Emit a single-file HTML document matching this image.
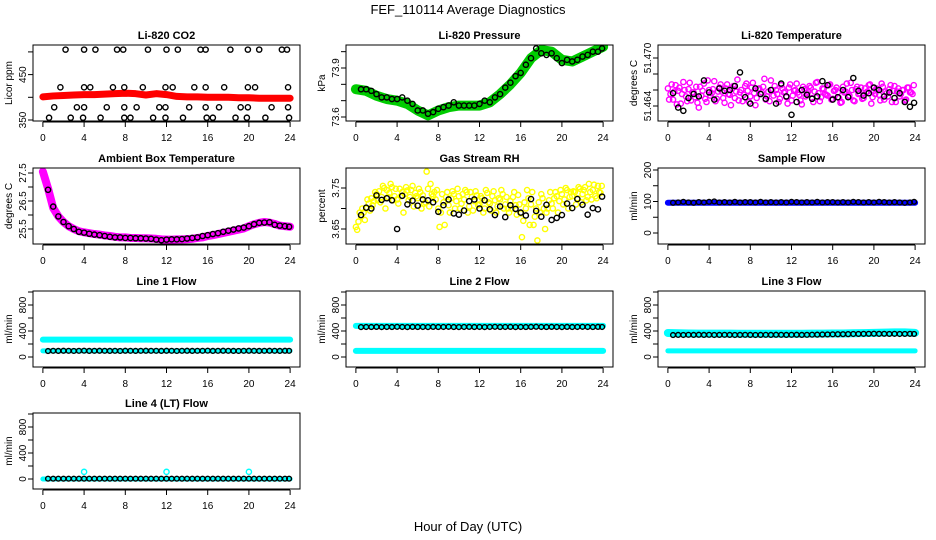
<!DOCTYPE html>
<html><head><meta charset="utf-8"><style>
html,body{margin:0;padding:0;background:#fff;}
svg{display:block;font-family:"Liberation Sans",Helvetica,Arial,sans-serif;}
</style></head><body>
<svg id="chart" width="936" height="540" viewBox="0 0 936 540" xmlns="http://www.w3.org/2000/svg">
<text x="468" y="14" font-size="13" text-anchor="middle">FEF_110114  Average Diagnostics</text>
<text x="468" y="531" font-size="13" text-anchor="middle">Hour of Day (UTC)</text>
</svg>
<script>
const xTicks=[0,4,8,12,16,20,24];
const blackT=[0.5,1,1.5,2,2.5,3,3.5,4,4.5,5,5.5,6,6.5,7,7.5,8,8.5,9,9.5,10,10.5,11,11.5,12,12.5,13,13.5,14,14.5,15,15.5,16,16.5,17,17.5,18,18.5,19,19.5,20,20.5,21,21.5,22,22.5,23,23.5,23.9];
const bandT=[0,0.5,1,1.5,2,2.5,3,3.5,4,4.5,5,5.5,6,6.5,7,7.5,8,8.5,9,9.5,10,10.5,11,11.5,12,12.5,13,13.5,14,14.5,15,15.5,16,16.5,17,17.5,18,18.5,19,19.5,20,20.5,21,21.5,22,22.5,23,23.5,24];
const hourT=[0,1,2,3,4,5,6,7,8,9,10,11,12,13,14,15,16,17,18,19,20,21,22,23,24];
const cloudT=[0,0.25,0.5,0.75,1,1.25,1.5,1.75,2,2.25,2.5,2.75,3,3.25,3.5,3.75,4,4.25,4.5,4.75,5,5.25,5.5,5.75,6,6.25,6.5,6.75,7,7.25,7.5,7.75,8,8.25,8.5,8.75,9,9.25,9.5,9.75,10,10.25,10.5,10.75,11,11.25,11.5,11.75,12,12.25,12.5,12.75,13,13.25,13.5,13.75,14,14.25,14.5,14.75,15,15.25,15.5,15.75,16,16.25,16.5,16.75,17,17.25,17.5,17.75,18,18.25,18.5,18.75,19,19.25,19.5,19.75,20,20.25,20.5,20.75,21,21.25,21.5,21.75,22,22.25,22.5,22.75,23,23.25,23.5,23.75];

// CO2
const co2Band=[401,403,404,405,406,406,407,408,409,408,405,408,406,402,401,401,400,400,400,399,399,398,398,398,398];
const co2BlackHours=[2.2,4.0,5.1,7.2,7.8,10.2,12.0,13.1,15.3,15.8,18.2,19.9,21.0,23.2,23.7, 1.7,4.0,4.6,6.8,7.9,9.7,11.9,12.6,14.7,15.8,17.6,19.9,20.6,23.8, 1.1,3.3,4.0,6.2,7.9,9.1,11.3,11.9,14.2,15.8,17.1,19.2,19.9,22.2,23.8, 0.6,2.7,3.9,5.6,7.9,8.5,10.7,11.9,13.6,15.9,16.5,18.7,19.8,21.6,23.9];
const co2BlackVals=[505,505,505,505,505,505,505,505,505,505,505,505,505,505,505, 422,422,422,422,422,422,422,422,422,422,422,422,422,422, 378,378,378,378,378,378,378,378,378,378,378,378,378,378,378, 355,355,355,355,355,355,355,355,355,355,355,355,355,355,355];
// Pressure
const presBand=[73.77,73.76,73.73,73.71,73.70,73.68,73.64,73.61,73.64,73.66,73.67,73.67,73.67,73.69,73.74,73.80,73.87,73.96,74.01,74.00,73.95,73.94,73.97,74.00,74.03];
const presBlack=[73.77,73.77,73.76,73.74,73.72,73.72,73.71,73.71,73.72,73.70,73.68,73.64,73.64,73.62,73.63,73.65,73.66,73.67,73.69,73.67,73.67,73.67,73.67,73.68,73.70,73.69,73.72,73.74,73.78,73.81,73.85,73.87,73.92,73.96,74.02,73.99,73.98,73.99,73.96,73.93,73.95,73.94,73.95,73.97,73.98,74.00,74.00,74.02];
// Li-820 temperature
const tempCloudA=[51.4662,51.4655,51.4648,51.4666,51.4659,51.4643,51.4670,51.4652,51.4661,51.4647,51.4657,51.4664,51.4638,51.4653,51.4668,51.4645,51.4660,51.4656,51.4671,51.4649,51.4663,51.4658,51.4644,51.4667,51.4654,51.4662,51.4650,51.4673,51.4657,51.4646,51.4665,51.4659,51.4652,51.4669,51.4641,51.4661,51.4655,51.4664,51.4648,51.4658,51.4672,51.4653,51.4660,51.4645,51.4666,51.4657,51.4651,51.4663,51.4647,51.4659,51.4668,51.4654,51.4642,51.4661,51.4656,51.4665,51.4650,51.4658,51.4670,51.4646,51.4662,51.4655,51.4653,51.4667,51.4649,51.4660,51.4657,51.4644,51.4664,51.4658,51.4652,51.4669,51.4647,51.4661,51.4655,51.4663,51.4650,51.4657,51.4666,51.4643,51.4659,51.4662,51.4654,51.4668,51.4648,51.4656,51.4661,51.4645,51.4665,51.4658,51.4652,51.4660,51.4647,51.4663,51.4657,51.4655];
const tempCloudB=[51.4648,51.4667,51.4658,51.4642,51.4663,51.4655,51.4660,51.4646,51.4669,51.4657,51.4651,51.4644,51.4664,51.4659,51.4649,51.4672,51.4653,51.4661,51.4646,51.4658,51.4667,51.4650,51.4662,51.4655,51.4641,51.4665,51.4658,51.4647,51.4660,51.4654,51.4668,51.4645,51.4663,51.4656,51.4650,51.4662,51.4657,51.4674,51.4652,51.4646,51.4660,51.4665,51.4655,51.4649,51.4662,51.4658,51.4643,51.4667,51.4653,51.4660,51.4657,51.4647,51.4664,51.4652,51.4658,51.4663,51.4645,51.4669,51.4656,51.4651,51.4661,51.4654,51.4666,51.4648,51.4659,51.4663,51.4650,51.4645,51.4657,51.4668,51.4653,51.4660,51.4646,51.4664,51.4656,51.4649,51.4662,51.4658,51.4667,51.4651,51.4655,51.4661,51.4647,51.4664,51.4658,51.4652,51.4666,51.4659,51.4645,51.4662,51.4655,51.4660,51.4648,51.4663,51.4657,51.4666];
const tempBlack=[51.4656,51.4638,51.4634,51.4650,51.4655,51.4652,51.4672,51.4657,51.4648,51.4662,51.4659,51.4660,51.4665,51.4682,51.4651,51.4643,51.4662,51.4655,51.4649,51.4660,51.4643,51.4668,51.4652,51.4629,51.4645,51.4660,51.4654,51.4649,51.4652,51.4671,51.4666,51.4648,51.4651,51.4660,51.4651,51.4675,51.4659,51.4653,51.4656,51.4663,51.4660,51.4652,51.4657,51.4650,51.4656,51.4645,51.4639,51.4644];
// Ambient
const ambBand=[27.55,26.95,26.25,25.95,25.75,25.6,25.5,25.42,25.38,25.35,25.32,25.3,25.27,25.25,25.22,25.2,25.2,25.18,25.18,25.17,25.17,25.16,25.15,25.13,25.12,25.12,25.13,25.13,25.14,25.15,25.18,25.2,25.25,25.28,25.32,25.36,25.4,25.44,25.48,25.52,25.6,25.67,25.72,25.75,25.73,25.68,25.62,25.6,25.58];
const ambBlack=[26.9,26.3,25.95,25.75,25.6,25.5,25.4,25.37,25.33,25.3,25.28,25.25,25.22,25.2,25.2,25.18,25.18,25.17,25.17,25.16,25.15,25.12,25.1,25.12,25.13,25.13,25.14,25.16,25.18,25.2,25.25,25.28,25.32,25.35,25.4,25.44,25.48,25.52,25.55,25.6,25.67,25.72,25.73,25.74,25.65,25.62,25.6,25.58];
// RH
const rhCloudA=[3.655,3.668,3.680,3.690,3.700,3.712,3.725,3.718,3.735,3.742,3.728,3.750,3.745,3.738,3.752,3.730,3.722,3.748,3.740,3.735,3.744,3.728,3.755,3.738,3.725,3.740,3.732,3.715,3.748,3.760,3.730,3.722,3.700,3.690,3.715,3.728,3.708,3.725,3.735,3.718,3.730,3.712,3.722,3.740,3.705,3.728,3.718,3.732,3.710,3.725,3.700,3.738,3.712,3.730,3.720,3.705,3.722,3.735,3.710,3.700,3.718,3.728,3.708,3.733,3.688,3.670,3.700,3.725,3.710,3.660,3.700,3.715,3.735,3.700,3.690,3.720,3.712,3.725,3.730,3.718,3.735,3.722,3.745,3.728,3.730,3.740,3.725,3.748,3.735,3.752,3.728,3.740,3.745,3.730,3.755,3.738];
const rhCloudB=[3.648,3.690,3.700,3.672,3.722,3.695,3.708,3.740,3.720,3.715,3.755,3.700,3.728,3.760,3.720,3.748,3.712,3.730,3.690,3.752,3.720,3.745,3.705,3.730,3.748,3.700,3.712,3.790,3.705,3.735,3.740,3.745,3.655,3.735,3.660,3.740,3.690,3.742,3.700,3.748,3.700,3.735,3.745,3.690,3.740,3.695,3.742,3.708,3.730,3.690,3.745,3.715,3.695,3.742,3.690,3.725,3.745,3.700,3.728,3.690,3.700,3.740,3.685,3.710,3.630,3.715,3.745,3.660,3.740,3.680,3.622,3.690,3.725,3.650,3.700,3.740,3.700,3.740,3.690,3.745,3.710,3.750,3.700,3.740,3.742,3.710,3.752,3.715,3.745,3.720,3.760,3.722,3.758,3.725,3.740,3.755];
const rhBlack=[3.684,3.702,3.700,3.732,3.721,3.725,3.720,3.650,3.731,3.710,3.719,3.707,3.722,3.720,3.715,3.692,3.708,3.722,3.688,3.685,3.695,3.718,3.722,3.700,3.720,3.698,3.684,3.705,3.679,3.708,3.699,3.690,3.683,3.723,3.694,3.680,3.709,3.672,3.677,3.684,3.712,3.701,3.723,3.709,3.685,3.701,3.698,3.729];
// Flows
const sampleBand=[96,96,96,96,96,96,96,96,96,96,96,96,96,96,96,96,96,96,96,96,96,96,96,96,96];
const sampleBlack=[96,97,99,97,96,98,97,99,100,97,98,97,99,97,98,98,97,99,97,98,97,98,97,99,98,97,98,97,99,97,98,98,97,98,97,99,98,97,98,97,99,98,97,98,97,96,97,99];
const line1CyanHi=[268,268,268,268,268,268,268,268,268,268,268,268,268,268,268,268,268,268,268,268,268,268,268,268,268];
const line1CyanLo=[95,95,95,95,95,95,95,95,95,95,95,95,95,95,95,95,95,95,95,95,95,95,95,95,95];
const line1Black=[92,95,94,96,95,93,95,97,94,95,96,95,94,95,93,96,95,94,95,96,95,95,94,96,95,93,95,96,94,95,95,97,94,95,96,95,94,93,95,96,95,94,95,96,95,94,96,95];
const line2CyanHi=[478,478,478,478,478,478,478,478,478,478,478,478,478,478,478,478,478,478,478,478,478,478,478,478,478];
const line2CyanLo=[95,95,95,95,95,95,95,95,95,95,95,95,95,95,95,95,95,95,95,95,95,95,95,95,95];
const line2Black=[460,462,461,463,460,462,461,464,462,460,463,461,462,460,463,461,462,464,461,460,462,463,461,462,460,462,464,461,462,463,460,462,461,463,465,462,461,463,462,460,463,461,462,464,462,461,463,462];
const line3CyanHi=[370,365,362,360,360,360,360,358,358,358,358,358,358,358,360,360,362,362,365,368,372,375,378,378,372];
const line3CyanLo=[95,95,95,95,95,95,95,95,95,95,95,95,95,95,95,95,95,95,95,95,95,95,95,95,95];
const line3Black=[338,340,339,341,340,342,340,341,339,340,341,340,339,340,341,340,339,340,341,340,342,341,340,341,342,340,341,343,344,346,347,349,350,351,352,354,355,356,357,358,356,357,355,356,354,355,356,355];
const line4Cyan=[0,0,0,0,0,0,0,0,0,0,0,0,0,0,0,0,0,0,0,0,0,0,0,0,0];
const line4SpikeHours=[4,12,20];
const line4SpikeVals=[110,110,110];
const line4Black=[5,5,5,5,5,5,5,5,5,5,5,5,5,5,5,5,5,5,5,5,5,5,5,5,5,5,5,5,5,5,5,5,5,5,5,5,5,5,5,5,5,5,5,5,5,5,5,5];

const svg=document.getElementById('chart');
const NS='http://www.w3.org/2000/svg';
const colLeft=[33,346,658], rowTop=[45,168,291,413], PW=267, PH=76;
function mk(tag,attrs,parent){const e=document.createElementNS(NS,tag);for(const k in attrs)e.setAttribute(k,attrs[k]);(parent||svg).appendChild(e);return e;}

function panel(cfg){
  const L=colLeft[cfg.col], T=rowTop[cfg.row];
  const g=mk('g',{});
  
  
  const xs=h=>L+(h+0.96)/25.92*PW;
  const ys=v=>T+PH-(v-cfg.dom[0])/(cfg.dom[1]-cfg.dom[0])*PH;
  const t=mk('text',{x:L+PW/2,y:T-6,'font-size':11,'font-weight':'bold','text-anchor':'middle'},g);
  t.textContent=cfg.title;
  
  
  const yl=mk('text',{transform:`translate(${L-21},${T+PH/2}) rotate(-90)`,'font-size':10,'text-anchor':'middle'},g);
  yl.textContent=cfg.ylab;
  
  
  // x axis
  mk('line',{x1:xs(0),x2:xs(24),y1:T+PH+1,y2:T+PH+1,stroke:'#000','stroke-width':1},g);
  xTicks.forEach(v=>{
    mk('line',{x1:xs(v),x2:xs(v),y1:T+PH+1,y2:T+PH+6,stroke:'#000'},g);
    const tx=mk('text',{x:xs(v),y:T+PH+20,'font-size':10,'text-anchor':'middle'},g);
    tx.textContent=v;
    
    
  });
  // y axis
  const yt=cfg.ticks;
  mk('line',{x1:L,x2:L,y1:ys(yt[0]),y2:ys(yt[yt.length-1]),stroke:'#000'},g);
  yt.forEach(v=>{
    mk('line',{x1:L,x2:L-5,y1:ys(v),y2:ys(v),stroke:'#000'},g);
  });
  cfg.labels.forEach(v=>{
    const tx=mk('text',{transform:`translate(${L-7},${ys(v)}) rotate(-90)`,'font-size':10,'text-anchor':'middle'},g);
    tx.textContent=v;
    
    
  });
  const clip='c'+cfg.col+cfg.row;
  const cp=mk('clipPath',{id:clip},g); mk('rect',{x:L,y:T,width:PW,height:PH},cp);
  const d=mk('g',{'clip-path':`url(#${clip})`},g);
  cfg.draw({d,xs,ys});
  mk('rect',{x:L,y:T,width:PW,height:PH,fill:'none',stroke:'#000','stroke-width':1},g);
}
function band(c,ts,vs,color,w,name){
  const p=mk('polyline',{points:ts.map((t,i)=>c.xs(t)+','+c.ys(vs[i])).join(' '),fill:'none',stroke:color,'stroke-width':w,'stroke-linecap':'round','stroke-linejoin':'round'},c.d);
  
  
}
function pts(c,ts,vs,color,name,r,sw){
  ts.forEach((t,i)=>{
    const e=mk('circle',{cx:c.xs(t),cy:c.ys(vs[i]),r:r||2.6,fill:'none',stroke:color,'stroke-width':sw||1.4},c.d);
    
    
  });
}

panel({name:'co2-panel',col:0,row:0,title:'Li-820 CO2',ylab:'Licor ppm',dom:[347.8,515.2],ticks:[350,400,450,500],labels:[350,450],draw:c=>{
  band(c,hourT,co2Band,'#ff0000',7,'co2-band');
  pts(c,co2BlackHours,co2BlackVals,'#000','co2-point');
}});
panel({name:'pressure-panel',col:1,row:0,title:'Li-820 Pressure',ylab:'kPa',dom:[73.5755,74.0408],ticks:[73.6,73.7,73.8,73.9,74.0],labels:[73.6,73.9],draw:c=>{
  band(c,hourT,presBand,'#00cc00',10,'pressure-band');
  pts(c,blackT,presBlack,'#000','pressure-point');
}});
panel({name:'temperature-panel',col:2,row:0,title:'Li-820 Temperature',ylab:'degrees C',dom:[51.462125,51.471625],ticks:[51.464,51.466,51.468,51.470],labels:['51.464','51.470'],draw:c=>{
  pts(c,cloudT,tempCloudA,'#ff00ff','temperature-cloud-point');
  pts(c,cloudT.map(t=>t+0.12),tempCloudB,'#ff00ff','temperature-cloud-point');
  pts(c,blackT,tempBlack,'#000','temperature-point');
}});
panel({name:'ambient-panel',col:0,row:1,title:'Ambient Box Temperature',ylab:'degrees C',dom:[24.964,27.679],ticks:[25.5,26,26.5,27,27.5],labels:[25.5,26.5,27.5],draw:c=>{
  band(c,bandT,ambBand,'#ff00ff',8,'ambient-band');
  pts(c,blackT,ambBlack,'#000','ambient-point');
}});
panel({name:'rh-panel',col:1,row:1,title:'Gas Stream RH',ylab:'percent',dom:[3.6134,3.7988],ticks:[3.65,3.70,3.75],labels:['3.65','3.75'],draw:c=>{
  pts(c,cloudT,rhCloudA,'#ffff00','rh-cloud-point');
  pts(c,cloudT.map(t=>t+0.12),rhCloudB,'#ffff00','rh-cloud-point');
  pts(c,blackT,rhBlack,'#000','rh-point');
}});
panel({name:'sample-flow-panel',col:2,row:1,title:'Sample Flow',ylab:'ml/min',dom:[-34.9,206.3],ticks:[0,50,100,150,200],labels:[0,100,200],draw:c=>{
  band(c,hourT,sampleBand,'#0000ff',6,'sample-band');
  pts(c,blackT,sampleBlack,'#000','sample-point',2.4);
}});
const flowTicks=[0,200,400,600,800,1000], flowLabels=[0,400,800];
panel({name:'line1-panel',col:0,row:2,title:'Line 1 Flow',ylab:'ml/min',dom:[-153.8,1015.4],ticks:flowTicks,labels:flowLabels,draw:c=>{
  band(c,hourT,line1CyanHi,'#00ffff',6,'line1-cyan-high');
  band(c,hourT,line1CyanLo,'#00ffff',5,'line1-cyan-low');
  pts(c,blackT,line1Black,'#000','line1-point',2.4);
}});
panel({name:'line2-panel',col:1,row:2,title:'Line 2 Flow',ylab:'ml/min',dom:[-153.8,1015.4],ticks:flowTicks,labels:flowLabels,draw:c=>{
  band(c,hourT,line2CyanHi,'#00ffff',6,'line2-cyan-high');
  band(c,hourT,line2CyanLo,'#00ffff',6,'line2-cyan-low');
  pts(c,blackT,line2Black,'#000','line2-point',2.4);
}});
panel({name:'line3-panel',col:2,row:2,title:'Line 3 Flow',ylab:'ml/min',dom:[-153.8,1015.4],ticks:flowTicks,labels:flowLabels,draw:c=>{
  band(c,hourT,line3CyanHi,'#00ffff',8,'line3-cyan-high');
  band(c,hourT,line3CyanLo,'#00ffff',5,'line3-cyan-low');
  pts(c,blackT,line3Black,'#000','line3-point',2.4);
}});
panel({name:'line4-panel',col:0,row:3,title:'Line 4 (LT) Flow',ylab:'ml/min',dom:[-153.8,1015.4],ticks:flowTicks,labels:flowLabels,draw:c=>{
  band(c,hourT,line4Cyan,'#00ffff',5,'line4-cyan');
  pts(c,line4SpikeHours,line4SpikeVals,'#00ffff','line4-spike-point',2.6);
  pts(c,blackT,line4Black,'#000','line4-point',2.4);
}});
</script>
</body></html>
